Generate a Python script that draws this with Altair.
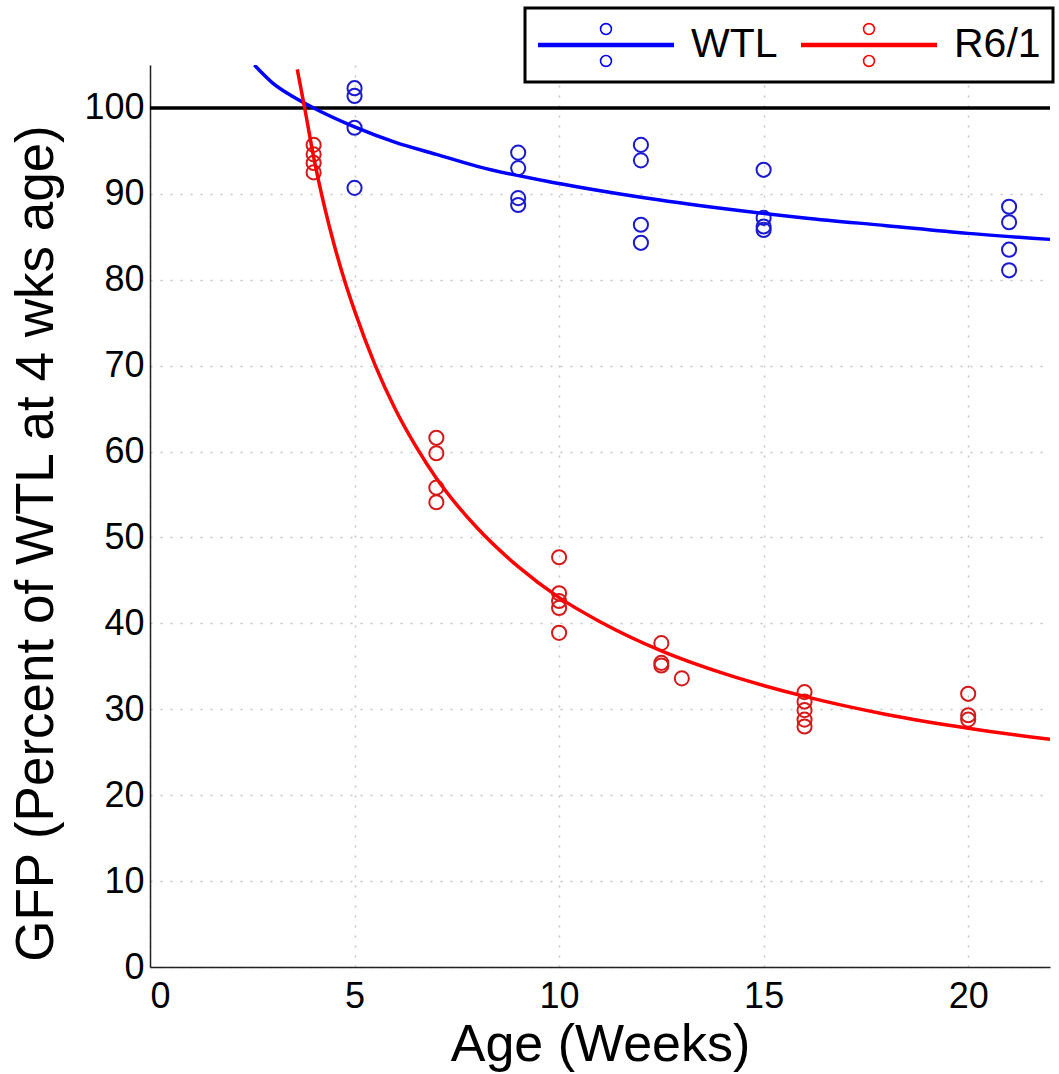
import altair as alt
import pandas as pd

# ---- data ----
series_names = ["WTL", "R6/1"]
series_colors = ["#0000ff", "#ff0000"]

wtl_age = [5, 5, 5, 5, 9, 9, 9, 9, 12, 12, 12, 12, 15, 15, 15, 15, 21, 21, 21, 21]
wtl_gfp = [102.3, 101.4, 97.7, 90.7, 94.8, 93.0, 89.5, 88.7, 95.7, 93.9, 86.4, 84.3,
           92.8, 87.2, 86.2, 85.8, 88.5, 86.7, 83.5, 81.1]

r6_age = [4, 4, 4, 4, 7, 7, 7, 7, 10, 10, 10, 10, 10, 12.5, 12.5, 12.5, 13,
          16, 16, 16, 16, 16, 20, 20, 20]
r6_gfp = [95.7, 94.6, 93.6, 92.5, 61.6, 59.8, 55.8, 54.1, 47.7, 43.5, 42.6, 41.8, 38.9,
          37.7, 35.4, 35.1, 33.6, 32.0, 30.9, 29.9, 28.8, 28.0, 31.8, 29.3, 28.8]

wtl_fit_age = [2.55, 3, 3.5, 4, 5, 6, 7, 8, 10, 12, 14, 16, 18, 20, 22]
wtl_fit_gfp = [105, 102.9, 101.3, 100, 97.8, 96.0, 94.6, 93.2, 91.2, 89.6, 88.3, 87.2, 86.3, 85.4, 84.7]

r6_fit_age = [3.6, 3.8, 4.0, 4.25, 4.5, 4.75, 5, 5.5, 6, 6.5, 7, 7.5, 8, 9, 10, 11, 12.5,
              14, 16, 18, 20, 22]
r6_fit_gfp = [104.5, 99.5, 94.3, 88.8, 84.1, 80.0, 76.4, 70.1, 64.9, 60.6, 56.9, 53.8, 51.1,
              46.6, 43.0, 40.2, 36.8, 34.2, 31.5, 29.4, 27.8, 26.5]

ref_level = [100]
x_ticks = [0, 5, 10, 15, 20]
y_ticks = [0, 10, 20, 30, 40, 50, 60, 70, 80, 90, 100]

FONT = "Liberation Sans"

pts_w = pd.DataFrame({"age": wtl_age, "gfp": wtl_gfp})
pts_r = pd.DataFrame({"age": r6_age, "gfp": r6_gfp})
fits = pd.concat([
    pd.DataFrame({"age": wtl_fit_age, "gfp": wtl_fit_gfp, "series": "WTL", "o": range(len(wtl_fit_age))}),
    pd.DataFrame({"age": r6_fit_age, "gfp": r6_fit_gfp, "series": "R6/1", "o": range(len(r6_fit_age))}),
])
ref = pd.DataFrame({"y": ref_level})

xscale = alt.Scale(domain=[0, 22], nice=False, zero=False)
yscale = alt.Scale(domain=[0, 105], nice=False, zero=False)

xaxis = alt.Axis(values=x_ticks, title="Age (Weeks)", grid=True, ticks=False, tickSize=0,
                 labelFont=FONT, labelFontSize=36, labelPadding=12, labelColor="black",
                 titleFont=FONT, titleFontSize=52, titleFontWeight="normal", titleColor="black",
                 titleY=93, titleBaseline="alphabetic",
                 domainColor="#222222", domainWidth=1.5,
                 gridColor="#c4c4c4", gridDash=[2, 8], gridWidth=1.5, format="d")
yaxis = alt.Axis(values=y_ticks, title="GFP (Percent of WTL at 4 wks age)", grid=True,
                 ticks=False, tickSize=0,
                 labelFont=FONT, labelFontSize=36, labelPadding=6, labelColor="black",
                 titleFont=FONT, titleFontSize=53, titleFontWeight="normal", titleColor="black",
                 titleX=-98, titleY=478, titleBaseline="alphabetic", titleAngle=270,
                 domainColor="#222222", domainWidth=1.5,
                 gridColor="#c4c4c4", gridDash=[2, 8], gridWidth=1.5, format="d")

# legend symbol: thick horizontal line (several strokes) with two small hollow circles
LEG_PATH = (
    "M-1,-0.022H1M-1,-0.008H1M-1,0.008H1M-1,0.022H1 "
    "M0.08,-0.235A0.08,0.08 0 1,0 -0.08,-0.235A0.08,0.08 0 1,0 0.08,-0.235 "
    "M0.08,0.235A0.08,0.08 0 1,0 -0.08,0.235A0.08,0.08 0 1,0 0.08,0.235"
)

legend = alt.Legend(
    orient="none", legendX=375, legendY=-57, direction="horizontal", title=None,
    symbolType=LEG_PATH, symbolSize=136 * 136, symbolStrokeWidth=1.6, symbolOpacity=1,
    labelFont=FONT, labelFontSize=41, labelColor="black", labelOffset=16,
    columnPadding=22, padding=12, strokeColor="black", fillColor="white",
    clipHeight=50, labelLimit=300,
)

base_x = alt.X("age:Q", scale=xscale, axis=xaxis)
base_y = alt.Y("gfp:Q", scale=yscale, axis=yaxis)

lines = alt.Chart(fits).mark_line(strokeWidth=3.5, clip=True, interpolate="monotone").encode(
    x=base_x, y=base_y,
    color=alt.Color("series:N", scale=alt.Scale(domain=series_names, range=series_colors), legend=legend),
    order="o:Q",
)

pw = alt.Chart(pts_w).mark_point(shape="circle", filled=False, size=200, strokeWidth=2,
                                 color="#1a1ad0", opacity=1).encode(x="age:Q", y="gfp:Q")
pr = alt.Chart(pts_r).mark_point(shape="circle", filled=False, size=200, strokeWidth=2,
                                 color="#d41a1a", opacity=1).encode(x="age:Q", y="gfp:Q")

hline = alt.Chart(ref).mark_rule(color="black", strokeWidth=3.5).encode(y="y:Q")

chart = alt.layer(hline, pw, pr, lines).properties(
    width=900, height=902,
    autosize=alt.AutoSizeParams(type="none"),
    padding={"left": 150, "top": 65, "right": 9, "bottom": 107},
    background="white",
).configure_view(stroke=None).configure_legend(strokeWidth=3)

chart.save("out.html", embed_options={"renderer": "svg", "actions": False})
